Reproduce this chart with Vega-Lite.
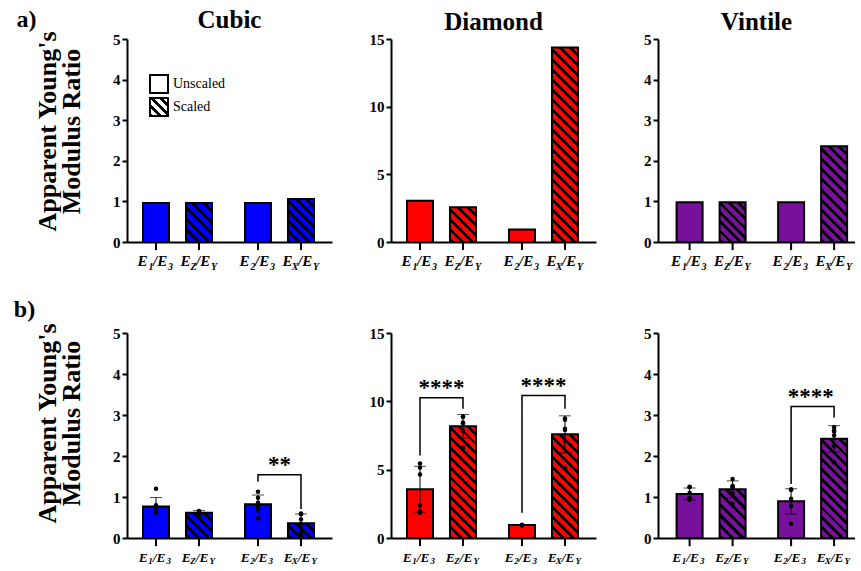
{
  "$schema": "https://vega.github.io/schema/vega-lite/v6.json",
  "background": "white",
  "padding": {"left": 13, "top": 8, "right": 0, "bottom": 0},
  "datasets": {
    "bars": [
      {"row":"a","shape":"Cubic","group":"G1","kind":"Unscaled","rep":1,"value":0.96},
      {"row":"a","shape":"Cubic","group":"G1","kind":"Scaled","rep":1,"value":0.96},
      {"row":"a","shape":"Cubic","group":"G2","kind":"Unscaled","rep":1,"value":0.96},
      {"row":"a","shape":"Cubic","group":"G2","kind":"Scaled","rep":1,"value":1.06},
      {"row":"a","shape":"Diamond","group":"G1","kind":"Unscaled","rep":1,"value":3.05},
      {"row":"a","shape":"Diamond","group":"G1","kind":"Scaled","rep":1,"value":2.56},
      {"row":"a","shape":"Diamond","group":"G2","kind":"Unscaled","rep":1,"value":0.92},
      {"row":"a","shape":"Diamond","group":"G2","kind":"Scaled","rep":1,"value":14.38},
      {"row":"a","shape":"Vintile","group":"G1","kind":"Unscaled","rep":1,"value":0.98},
      {"row":"a","shape":"Vintile","group":"G1","kind":"Scaled","rep":1,"value":0.98},
      {"row":"a","shape":"Vintile","group":"G2","kind":"Unscaled","rep":1,"value":0.98},
      {"row":"a","shape":"Vintile","group":"G2","kind":"Scaled","rep":1,"value":2.36},

      {"row":"b","shape":"Cubic","group":"G1","kind":"Unscaled","rep":1,"value":0.66},
      {"row":"b","shape":"Cubic","group":"G1","kind":"Unscaled","rep":2,"value":0.68},
      {"row":"b","shape":"Cubic","group":"G1","kind":"Unscaled","rep":3,"value":1.2},
      {"row":"b","shape":"Cubic","group":"G1","kind":"Unscaled","rep":4,"value":0.8},
      {"row":"b","shape":"Cubic","group":"G1","kind":"Unscaled","rep":5,"value":0.62},
      {"row":"b","shape":"Cubic","group":"G1","kind":"Unscaled","rep":6,"value":0.66},
      {"row":"b","shape":"Cubic","group":"G1","kind":"Scaled","rep":1,"value":0.64},
      {"row":"b","shape":"Cubic","group":"G1","kind":"Scaled","rep":2,"value":0.66},
      {"row":"b","shape":"Cubic","group":"G1","kind":"Scaled","rep":3,"value":0.52},
      {"row":"b","shape":"Cubic","group":"G1","kind":"Scaled","rep":4,"value":0.62},
      {"row":"b","shape":"Cubic","group":"G1","kind":"Scaled","rep":5,"value":0.64},
      {"row":"b","shape":"Cubic","group":"G1","kind":"Scaled","rep":6,"value":0.63},
      {"row":"b","shape":"Cubic","group":"G2","kind":"Unscaled","rep":1,"value":0.7},
      {"row":"b","shape":"Cubic","group":"G2","kind":"Unscaled","rep":2,"value":1.13},
      {"row":"b","shape":"Cubic","group":"G2","kind":"Unscaled","rep":3,"value":0.86},
      {"row":"b","shape":"Cubic","group":"G2","kind":"Unscaled","rep":4,"value":0.48},
      {"row":"b","shape":"Cubic","group":"G2","kind":"Unscaled","rep":5,"value":0.98},
      {"row":"b","shape":"Cubic","group":"G2","kind":"Unscaled","rep":6,"value":0.78},
      {"row":"b","shape":"Cubic","group":"G2","kind":"Scaled","rep":1,"value":0.45},
      {"row":"b","shape":"Cubic","group":"G2","kind":"Scaled","rep":2,"value":0.6},
      {"row":"b","shape":"Cubic","group":"G2","kind":"Scaled","rep":3,"value":0.15},
      {"row":"b","shape":"Cubic","group":"G2","kind":"Scaled","rep":4,"value":0.33},
      {"row":"b","shape":"Cubic","group":"G2","kind":"Scaled","rep":5,"value":0.58},
      {"row":"b","shape":"Cubic","group":"G2","kind":"Scaled","rep":6,"value":0.05},

      {"row":"b","shape":"Diamond","group":"G1","kind":"Unscaled","rep":1,"value":5.15},
      {"row":"b","shape":"Diamond","group":"G1","kind":"Unscaled","rep":2,"value":1.95},
      {"row":"b","shape":"Diamond","group":"G1","kind":"Unscaled","rep":3,"value":5.45},
      {"row":"b","shape":"Diamond","group":"G1","kind":"Unscaled","rep":4,"value":2.4},
      {"row":"b","shape":"Diamond","group":"G1","kind":"Unscaled","rep":5,"value":1.85},
      {"row":"b","shape":"Diamond","group":"G1","kind":"Unscaled","rep":6,"value":4.65},
      {"row":"b","shape":"Diamond","group":"G1","kind":"Scaled","rep":1,"value":8.9},
      {"row":"b","shape":"Diamond","group":"G1","kind":"Scaled","rep":2,"value":8.45},
      {"row":"b","shape":"Diamond","group":"G1","kind":"Scaled","rep":3,"value":7.85},
      {"row":"b","shape":"Diamond","group":"G1","kind":"Scaled","rep":4,"value":6.6},
      {"row":"b","shape":"Diamond","group":"G1","kind":"Scaled","rep":5,"value":8.85},
      {"row":"b","shape":"Diamond","group":"G1","kind":"Scaled","rep":6,"value":8.4},
      {"row":"b","shape":"Diamond","group":"G2","kind":"Unscaled","rep":1,"value":0.95},
      {"row":"b","shape":"Diamond","group":"G2","kind":"Unscaled","rep":2,"value":0.96},
      {"row":"b","shape":"Diamond","group":"G2","kind":"Unscaled","rep":3,"value":0.94},
      {"row":"b","shape":"Diamond","group":"G2","kind":"Unscaled","rep":4,"value":0.95},
      {"row":"b","shape":"Diamond","group":"G2","kind":"Unscaled","rep":5,"value":0.96},
      {"row":"b","shape":"Diamond","group":"G2","kind":"Unscaled","rep":6,"value":0.94},
      {"row":"b","shape":"Diamond","group":"G2","kind":"Scaled","rep":1,"value":8.75},
      {"row":"b","shape":"Diamond","group":"G2","kind":"Scaled","rep":2,"value":8.0},
      {"row":"b","shape":"Diamond","group":"G2","kind":"Scaled","rep":3,"value":7.1},
      {"row":"b","shape":"Diamond","group":"G2","kind":"Scaled","rep":4,"value":5.1},
      {"row":"b","shape":"Diamond","group":"G2","kind":"Scaled","rep":5,"value":8.65},
      {"row":"b","shape":"Diamond","group":"G2","kind":"Scaled","rep":6,"value":7.9},

      {"row":"b","shape":"Vintile","group":"G1","kind":"Unscaled","rep":1,"value":0.93},
      {"row":"b","shape":"Vintile","group":"G1","kind":"Unscaled","rep":2,"value":1.25},
      {"row":"b","shape":"Vintile","group":"G1","kind":"Unscaled","rep":3,"value":1.1},
      {"row":"b","shape":"Vintile","group":"G1","kind":"Unscaled","rep":4,"value":0.95},
      {"row":"b","shape":"Vintile","group":"G1","kind":"Unscaled","rep":5,"value":1.24},
      {"row":"b","shape":"Vintile","group":"G1","kind":"Unscaled","rep":6,"value":0.97},
      {"row":"b","shape":"Vintile","group":"G1","kind":"Scaled","rep":1,"value":1.26},
      {"row":"b","shape":"Vintile","group":"G1","kind":"Scaled","rep":2,"value":1.08},
      {"row":"b","shape":"Vintile","group":"G1","kind":"Scaled","rep":3,"value":1.44},
      {"row":"b","shape":"Vintile","group":"G1","kind":"Scaled","rep":4,"value":0.84},
      {"row":"b","shape":"Vintile","group":"G1","kind":"Scaled","rep":5,"value":1.24},
      {"row":"b","shape":"Vintile","group":"G1","kind":"Scaled","rep":6,"value":1.27},
      {"row":"b","shape":"Vintile","group":"G2","kind":"Unscaled","rep":1,"value":1.19},
      {"row":"b","shape":"Vintile","group":"G2","kind":"Unscaled","rep":2,"value":0.96},
      {"row":"b","shape":"Vintile","group":"G2","kind":"Unscaled","rep":3,"value":0.35},
      {"row":"b","shape":"Vintile","group":"G2","kind":"Unscaled","rep":4,"value":0.78},
      {"row":"b","shape":"Vintile","group":"G2","kind":"Unscaled","rep":5,"value":0.92},
      {"row":"b","shape":"Vintile","group":"G2","kind":"Unscaled","rep":6,"value":1.17},
      {"row":"b","shape":"Vintile","group":"G2","kind":"Scaled","rep":1,"value":2.62},
      {"row":"b","shape":"Vintile","group":"G2","kind":"Scaled","rep":2,"value":2.5},
      {"row":"b","shape":"Vintile","group":"G2","kind":"Scaled","rep":3,"value":2.7},
      {"row":"b","shape":"Vintile","group":"G2","kind":"Scaled","rep":4,"value":1.85},
      {"row":"b","shape":"Vintile","group":"G2","kind":"Scaled","rep":5,"value":2.25},
      {"row":"b","shape":"Vintile","group":"G2","kind":"Scaled","rep":6,"value":2.6}
    ],
    "labels": [
      {"group":"G1","kind":"Unscaled","n":"1","d":"3"},
      {"group":"G1","kind":"Scaled","n":"Z","d":"Y"},
      {"group":"G2","kind":"Unscaled","n":"2","d":"3"},
      {"group":"G2","kind":"Scaled","n":"X","d":"Y"}
    ],
    "brackets": [
      {"shape":"Cubic","id":"c2","group":"G2","kind":"Unscaled","ord":1,"y":1.37},
      {"shape":"Cubic","id":"c2","group":"G2","kind":"Unscaled","ord":2,"y":1.54},
      {"shape":"Cubic","id":"c2","group":"G2","kind":"Scaled","ord":3,"y":1.54},
      {"shape":"Cubic","id":"c2","group":"G2","kind":"Scaled","ord":4,"y":0.71},
      {"shape":"Diamond","id":"d1","group":"G1","kind":"Unscaled","ord":1,"y":6.04},
      {"shape":"Diamond","id":"d1","group":"G1","kind":"Unscaled","ord":2,"y":10.26},
      {"shape":"Diamond","id":"d1","group":"G1","kind":"Scaled","ord":3,"y":10.26},
      {"shape":"Diamond","id":"d1","group":"G1","kind":"Scaled","ord":4,"y":9.46},
      {"shape":"Diamond","id":"d2","group":"G2","kind":"Unscaled","ord":1,"y":1.85},
      {"shape":"Diamond","id":"d2","group":"G2","kind":"Unscaled","ord":2,"y":10.43},
      {"shape":"Diamond","id":"d2","group":"G2","kind":"Scaled","ord":3,"y":10.43},
      {"shape":"Diamond","id":"d2","group":"G2","kind":"Scaled","ord":4,"y":9.46},
      {"shape":"Vintile","id":"v2","group":"G2","kind":"Unscaled","ord":1,"y":1.32},
      {"shape":"Vintile","id":"v2","group":"G2","kind":"Unscaled","ord":2,"y":3.21},
      {"shape":"Vintile","id":"v2","group":"G2","kind":"Scaled","ord":3,"y":3.21},
      {"shape":"Vintile","id":"v2","group":"G2","kind":"Scaled","ord":4,"y":2.94}
    ],
    "stars": [
      {"shape":"Cubic","group":"G2","y":1.54,"label":"**"},
      {"shape":"Diamond","group":"G1","y":10.26,"label":"****"},
      {"shape":"Diamond","group":"G2","y":10.43,"label":"****"},
      {"shape":"Vintile","group":"G2","y":3.21,"label":"****"}
    ]
  },
  "config": {
    "view": {"stroke": null},
    "font": "Liberation Serif",
    "title": {"font": "Liberation Serif", "fontSize": 25, "fontWeight": "bold", "color": "#000", "offset": -3},
    "axis": {
      "domainColor": "#000", "domainWidth": 2,
      "tickColor": "#000", "tickWidth": 2, "tickSize": 5,
      "labelFont": "Liberation Serif", "labelFontSize": 15, "labelFontWeight": "bold", "labelColor": "#000", "labelPadding": 2,
      "grid": false,
      "titleFont": "Liberation Serif", "titleFontSize": 26, "titleFontWeight": "bold", "titleColor": "#000",
      "titleLineHeight": 24, "titlePadding": 28
    }
  },
  "spacing": 26,
  "vconcat": [
    {
      "title": {"text": "a)", "orient": "left", "anchor": "end", "angle": 0, "align": "right", "baseline": "top", "offset": -22, "fontSize": 24},
      "spacing": 10,
      "hconcat": [
        {
          "width": 205, "height": 203,
          "title": "Cubic",
          "data": {"name": "bars"},
          "encoding": {"x": {"field": "group", "type": "nominal", "scale": {"domain": ["G1","G2"], "paddingInner": 0.1, "paddingOuter": 0.0549, "align": 0.41}, "axis": {"labels": false, "ticks": false, "title": null}}},
          "layer": [
            {"transform": [{"filter": "datum.row=='a' && datum.shape=='Cubic' && datum.kind=='Unscaled'"}],
             "mark": {"type": "bar", "fill": "#00f", "stroke": "#000", "strokeWidth": 2},
             "encoding": {"xOffset": {"field":"kind","type":"nominal","scale":{"domain":["Unscaled","Scaled"],"paddingInner":0.3953,"paddingOuter":0.2651}},
               "y": {"aggregate": "mean", "field": "value", "type": "quantitative", "scale": {"domain": [0,5], "nice": false}, "axis": {"values": [0,1,2,3,4,5], "titleY": 92, "title": ["Apparent Young's","Modulus Ratio"]}}}},
            {"transform": [{"filter": "datum.row=='a' && datum.shape=='Cubic' && datum.kind=='Scaled' && datum.group=='G1'"}],
             "mark": {"type": "bar", "stroke": "#000", "strokeWidth": 2, "fill": {"gradient":"linear","x1":0,"y1":1,"x2":0.7692,"y2":-0.1538,"stops":[
               {"offset":0,"color":"#000"},{"offset":0.0667,"color":"#000"},{"offset":0.0667,"color":"#00f"},{"offset":0.1667,"color":"#00f"},
               {"offset":0.1667,"color":"#000"},{"offset":0.2333,"color":"#000"},{"offset":0.2333,"color":"#00f"},{"offset":0.3333,"color":"#00f"},
               {"offset":0.3333,"color":"#000"},{"offset":0.4,"color":"#000"},{"offset":0.4,"color":"#00f"},{"offset":0.5,"color":"#00f"},
               {"offset":0.5,"color":"#000"},{"offset":0.5667,"color":"#000"},{"offset":0.5667,"color":"#00f"},{"offset":0.6667,"color":"#00f"},
               {"offset":0.6667,"color":"#000"},{"offset":0.7333,"color":"#000"},{"offset":0.7333,"color":"#00f"},{"offset":0.8333,"color":"#00f"},
               {"offset":0.8333,"color":"#000"},{"offset":0.9,"color":"#000"},{"offset":0.9,"color":"#00f"},{"offset":1,"color":"#00f"}]}},
             "encoding": {"xOffset": {"field":"kind","type":"nominal","scale":{"domain":["Unscaled","Scaled"],"paddingInner":0.3953,"paddingOuter":0.2651}},
               "y": {"aggregate": "mean", "field": "value", "type": "quantitative"}}},
            {"transform": [{"filter": "datum.row=='a' && datum.shape=='Cubic' && datum.kind=='Scaled' && datum.group=='G2'"}],
             "mark": {"type": "bar", "stroke": "#000", "strokeWidth": 2, "fill": {"gradient":"linear","x1":0,"y1":1,"x2":0.7105,"y2":-0.1751,"stops":[
               {"offset":0,"color":"#000"},{"offset":0.0571,"color":"#000"},{"offset":0.0571,"color":"#00f"},{"offset":0.1429,"color":"#00f"},
               {"offset":0.1429,"color":"#000"},{"offset":0.2,"color":"#000"},{"offset":0.2,"color":"#00f"},{"offset":0.2857,"color":"#00f"},
               {"offset":0.2857,"color":"#000"},{"offset":0.3429,"color":"#000"},{"offset":0.3429,"color":"#00f"},{"offset":0.4286,"color":"#00f"},
               {"offset":0.4286,"color":"#000"},{"offset":0.4857,"color":"#000"},{"offset":0.4857,"color":"#00f"},{"offset":0.5714,"color":"#00f"},
               {"offset":0.5714,"color":"#000"},{"offset":0.6286,"color":"#000"},{"offset":0.6286,"color":"#00f"},{"offset":0.7143,"color":"#00f"},
               {"offset":0.7143,"color":"#000"},{"offset":0.7714,"color":"#000"},{"offset":0.7714,"color":"#00f"},{"offset":0.8571,"color":"#00f"},
               {"offset":0.8571,"color":"#000"},{"offset":0.9143,"color":"#000"},{"offset":0.9143,"color":"#00f"},{"offset":1,"color":"#00f"}]}},
             "encoding": {"xOffset": {"field":"kind","type":"nominal","scale":{"domain":["Unscaled","Scaled"],"paddingInner":0.3953,"paddingOuter":0.2651}},
               "y": {"aggregate": "mean", "field": "value", "type": "quantitative"}}},
            {"data": {"name": "labels"}, "mark": {"type": "rule", "stroke": "#000", "strokeWidth": 2},
             "encoding": {"xOffset": {"field":"kind","type":"nominal","scale":{"domain":["Unscaled","Scaled"],"paddingInner":0.3953,"paddingOuter":0.2651}}, "y": {"datum": 0}, "y2": {"datum": -0.2}}},
            {"data": {"name": "labels"}, "mark": {"type": "text", "text": "E", "fontStyle": "italic", "fontWeight": "bold", "fontSize": 15, "align": "right", "baseline": "alphabetic", "dx": -8.5, "dy": 24, "color": "#000"},
             "encoding": {"xOffset": {"field":"kind","type":"nominal","scale":{"domain":["Unscaled","Scaled"],"paddingInner":0.3953,"paddingOuter":0.2651}}, "y": {"datum": 0}}},
            {"data": {"name": "labels"}, "mark": {"type": "text", "fontStyle": "italic", "fontWeight": "bold", "fontSize": 10, "align": "right", "baseline": "alphabetic", "dx": -2.5, "dy": 27.5, "color": "#000"},
             "encoding": {"xOffset": {"field":"kind","type":"nominal","scale":{"domain":["Unscaled","Scaled"],"paddingInner":0.3953,"paddingOuter":0.2651}}, "y": {"datum": 0}, "text": {"field": "n"}}},
            {"data": {"name": "labels"}, "mark": {"type": "text", "text": "/E", "fontStyle": "italic", "fontWeight": "bold", "fontSize": 15, "align": "left", "baseline": "alphabetic", "dx": -3, "dy": 24, "color": "#000"},
             "encoding": {"xOffset": {"field":"kind","type":"nominal","scale":{"domain":["Unscaled","Scaled"],"paddingInner":0.3953,"paddingOuter":0.2651}}, "y": {"datum": 0}}},
            {"data": {"name": "labels"}, "mark": {"type": "text", "fontStyle": "italic", "fontWeight": "bold", "fontSize": 10, "align": "left", "baseline": "alphabetic", "dx": 12, "dy": 27.5, "color": "#000"},
             "encoding": {"xOffset": {"field":"kind","type":"nominal","scale":{"domain":["Unscaled","Scaled"],"paddingInner":0.3953,"paddingOuter":0.2651}}, "y": {"datum": 0}, "text": {"field": "d"}}},
            {"data": {"values": []},
             "mark": {"type": "point", "filled": true, "opacity": 1},
             "encoding": {"shape": {"field": "kind", "type": "nominal",
               "scale": {"domain": ["Unscaled","Scaled"], "range": ["square", "square"]},
               "legend": {"title": null, "orient": "none", "legendX": 22, "legendY": 35, "padding": 0,
                 "symbolSize": 324, "symbolStrokeColor": "#000", "symbolStrokeWidth": 2, "symbolOpacity": 1, "symbolFillColor": "#fff",
                 "labelFont": "Liberation Serif", "labelFontSize": 14, "labelFontWeight": "normal", "labelColor": "#000", "labelOffset": 4, "rowPadding": -4,
                 "encoding": {"symbols": {
                   "stroke": {"value": "#000"},
                   "strokeWidth": {"value": 2},
                   "opacity": {"value": 1},
                   "fill": {"condition": {"test": "datum.value === 'Scaled'", "value": {"gradient":"linear","x1":0,"y1":1,"x2":1,"y2":0,"stops":[
                     {"offset":0,"color":"#000"},{"offset":0.1,"color":"#000"},{"offset":0.1,"color":"#fff"},{"offset":0.25,"color":"#fff"},
                     {"offset":0.25,"color":"#000"},{"offset":0.35,"color":"#000"},{"offset":0.35,"color":"#fff"},{"offset":0.5,"color":"#fff"},
                     {"offset":0.5,"color":"#000"},{"offset":0.6,"color":"#000"},{"offset":0.6,"color":"#fff"},{"offset":0.75,"color":"#fff"},
                     {"offset":0.75,"color":"#000"},{"offset":0.85,"color":"#000"},{"offset":0.85,"color":"#fff"},{"offset":1,"color":"#fff"}]}},
                   "value": "#fff"}}}}}}}
          ]
        },
        {
          "width": 205, "height": 203,
          "title": "Diamond",
          "data": {"name": "bars"},
          "encoding": {"x": {"field": "group", "type": "nominal", "scale": {"domain": ["G1","G2"], "paddingInner": 0.1, "paddingOuter": 0.0549, "align": 0.41}, "axis": {"labels": false, "ticks": false, "title": null}}},
          "layer": [
            {"transform": [{"filter": "datum.row=='a' && datum.shape=='Diamond' && datum.kind=='Unscaled'"}],
             "mark": {"type": "bar", "fill": "#f00", "stroke": "#000", "strokeWidth": 2},
             "encoding": {"xOffset": {"field":"kind","type":"nominal","scale":{"domain":["Unscaled","Scaled"],"paddingInner":0.3953,"paddingOuter":0.2651}},
               "y": {"aggregate": "mean", "field": "value", "type": "quantitative", "scale": {"domain": [0,15], "nice": false}, "axis": {"values": [0,5,10,15], "title": null, "minExtent": 49}}}},
            {"transform": [{"filter": "datum.row=='a' && datum.shape=='Diamond' && datum.kind=='Scaled' && datum.group=='G1'"}],
             "mark": {"type": "bar", "stroke": "#000", "strokeWidth": 2, "fill": {"gradient":"linear","x1":0,"y1":1,"x2":0.8412,"y2":-0.1195,"stops":[
               {"offset":0,"color":"#000"},{"offset":0.0667,"color":"#000"},{"offset":0.0667,"color":"#f00"},{"offset":0.1667,"color":"#f00"},
               {"offset":0.1667,"color":"#000"},{"offset":0.2333,"color":"#000"},{"offset":0.2333,"color":"#f00"},{"offset":0.3333,"color":"#f00"},
               {"offset":0.3333,"color":"#000"},{"offset":0.4,"color":"#000"},{"offset":0.4,"color":"#f00"},{"offset":0.5,"color":"#f00"},
               {"offset":0.5,"color":"#000"},{"offset":0.5667,"color":"#000"},{"offset":0.5667,"color":"#f00"},{"offset":0.6667,"color":"#f00"},
               {"offset":0.6667,"color":"#000"},{"offset":0.7333,"color":"#000"},{"offset":0.7333,"color":"#f00"},{"offset":0.8333,"color":"#f00"},
               {"offset":0.8333,"color":"#000"},{"offset":0.9,"color":"#000"},{"offset":0.9,"color":"#f00"},{"offset":1,"color":"#f00"}]}},
             "encoding": {"xOffset": {"field":"kind","type":"nominal","scale":{"domain":["Unscaled","Scaled"],"paddingInner":0.3953,"paddingOuter":0.2651}},
               "y": {"aggregate": "mean", "field": "value", "type": "quantitative"}}},
            {"transform": [{"filter": "datum.row=='a' && datum.shape=='Diamond' && datum.kind=='Scaled' && datum.group=='G2'"}],
             "mark": {"type": "bar", "stroke": "#000", "strokeWidth": 2, "fill": {"gradient":"linear","x1":0,"y1":1,"x2":0.1488,"y2":-0.1137,"stops":[
               {"offset":0,"color":"#000"},{"offset":0.0182,"color":"#000"},{"offset":0.0182,"color":"#f00"},{"offset":0.0455,"color":"#f00"},
               {"offset":0.0455,"color":"#000"},{"offset":0.0636,"color":"#000"},{"offset":0.0636,"color":"#f00"},{"offset":0.0909,"color":"#f00"},
               {"offset":0.0909,"color":"#000"},{"offset":0.1091,"color":"#000"},{"offset":0.1091,"color":"#f00"},{"offset":0.1364,"color":"#f00"},
               {"offset":0.1364,"color":"#000"},{"offset":0.1545,"color":"#000"},{"offset":0.1545,"color":"#f00"},{"offset":0.1818,"color":"#f00"},
               {"offset":0.1818,"color":"#000"},{"offset":0.2,"color":"#000"},{"offset":0.2,"color":"#f00"},{"offset":0.2273,"color":"#f00"},
               {"offset":0.2273,"color":"#000"},{"offset":0.2455,"color":"#000"},{"offset":0.2455,"color":"#f00"},{"offset":0.2727,"color":"#f00"},
               {"offset":0.2727,"color":"#000"},{"offset":0.2909,"color":"#000"},{"offset":0.2909,"color":"#f00"},{"offset":0.3182,"color":"#f00"},
               {"offset":0.3182,"color":"#000"},{"offset":0.3364,"color":"#000"},{"offset":0.3364,"color":"#f00"},{"offset":0.3636,"color":"#f00"},
               {"offset":0.3636,"color":"#000"},{"offset":0.3818,"color":"#000"},{"offset":0.3818,"color":"#f00"},{"offset":0.4091,"color":"#f00"},
               {"offset":0.4091,"color":"#000"},{"offset":0.4273,"color":"#000"},{"offset":0.4273,"color":"#f00"},{"offset":0.4545,"color":"#f00"},
               {"offset":0.4545,"color":"#000"},{"offset":0.4727,"color":"#000"},{"offset":0.4727,"color":"#f00"},{"offset":0.5,"color":"#f00"},
               {"offset":0.5,"color":"#000"},{"offset":0.5182,"color":"#000"},{"offset":0.5182,"color":"#f00"},{"offset":0.5455,"color":"#f00"},
               {"offset":0.5455,"color":"#000"},{"offset":0.5636,"color":"#000"},{"offset":0.5636,"color":"#f00"},{"offset":0.5909,"color":"#f00"},
               {"offset":0.5909,"color":"#000"},{"offset":0.6091,"color":"#000"},{"offset":0.6091,"color":"#f00"},{"offset":0.6364,"color":"#f00"},
               {"offset":0.6364,"color":"#000"},{"offset":0.6545,"color":"#000"},{"offset":0.6545,"color":"#f00"},{"offset":0.6818,"color":"#f00"},
               {"offset":0.6818,"color":"#000"},{"offset":0.7,"color":"#000"},{"offset":0.7,"color":"#f00"},{"offset":0.7273,"color":"#f00"},
               {"offset":0.7273,"color":"#000"},{"offset":0.7455,"color":"#000"},{"offset":0.7455,"color":"#f00"},{"offset":0.7727,"color":"#f00"},
               {"offset":0.7727,"color":"#000"},{"offset":0.7909,"color":"#000"},{"offset":0.7909,"color":"#f00"},{"offset":0.8182,"color":"#f00"},
               {"offset":0.8182,"color":"#000"},{"offset":0.8364,"color":"#000"},{"offset":0.8364,"color":"#f00"},{"offset":0.8636,"color":"#f00"},
               {"offset":0.8636,"color":"#000"},{"offset":0.8818,"color":"#000"},{"offset":0.8818,"color":"#f00"},{"offset":0.9091,"color":"#f00"},
               {"offset":0.9091,"color":"#000"},{"offset":0.9273,"color":"#000"},{"offset":0.9273,"color":"#f00"},{"offset":0.9545,"color":"#f00"},
               {"offset":0.9545,"color":"#000"},{"offset":0.9727,"color":"#000"},{"offset":0.9727,"color":"#f00"},{"offset":1,"color":"#f00"}]}},
             "encoding": {"xOffset": {"field":"kind","type":"nominal","scale":{"domain":["Unscaled","Scaled"],"paddingInner":0.3953,"paddingOuter":0.2651}},
               "y": {"aggregate": "mean", "field": "value", "type": "quantitative"}}},
            {"data": {"name": "labels"}, "mark": {"type": "rule", "stroke": "#000", "strokeWidth": 2},
             "encoding": {"xOffset": {"field":"kind","type":"nominal","scale":{"domain":["Unscaled","Scaled"],"paddingInner":0.3953,"paddingOuter":0.2651}}, "y": {"datum": 0}, "y2": {"datum": -0.59}}},
            {"data": {"name": "labels"}, "mark": {"type": "text", "text": "E", "fontStyle": "italic", "fontWeight": "bold", "fontSize": 15, "align": "right", "baseline": "alphabetic", "dx": -8.5, "dy": 24, "color": "#000"},
             "encoding": {"xOffset": {"field":"kind","type":"nominal","scale":{"domain":["Unscaled","Scaled"],"paddingInner":0.3953,"paddingOuter":0.2651}}, "y": {"datum": 0}}},
            {"data": {"name": "labels"}, "mark": {"type": "text", "fontStyle": "italic", "fontWeight": "bold", "fontSize": 10, "align": "right", "baseline": "alphabetic", "dx": -2.5, "dy": 27.5, "color": "#000"},
             "encoding": {"xOffset": {"field":"kind","type":"nominal","scale":{"domain":["Unscaled","Scaled"],"paddingInner":0.3953,"paddingOuter":0.2651}}, "y": {"datum": 0}, "text": {"field": "n"}}},
            {"data": {"name": "labels"}, "mark": {"type": "text", "text": "/E", "fontStyle": "italic", "fontWeight": "bold", "fontSize": 15, "align": "left", "baseline": "alphabetic", "dx": -3, "dy": 24, "color": "#000"},
             "encoding": {"xOffset": {"field":"kind","type":"nominal","scale":{"domain":["Unscaled","Scaled"],"paddingInner":0.3953,"paddingOuter":0.2651}}, "y": {"datum": 0}}},
            {"data": {"name": "labels"}, "mark": {"type": "text", "fontStyle": "italic", "fontWeight": "bold", "fontSize": 10, "align": "left", "baseline": "alphabetic", "dx": 12, "dy": 27.5, "color": "#000"},
             "encoding": {"xOffset": {"field":"kind","type":"nominal","scale":{"domain":["Unscaled","Scaled"],"paddingInner":0.3953,"paddingOuter":0.2651}}, "y": {"datum": 0}, "text": {"field": "d"}}}
          ]
        },
        {
          "width": 197, "height": 203,
          "title": "Vintile",
          "data": {"name": "bars"},
          "encoding": {"x": {"field": "group", "type": "nominal", "scale": {"domain": ["G1","G2"], "paddingInner": 0.13, "paddingOuter": 0.0355, "align": 1}, "axis": {"labels": false, "ticks": false, "title": null}}},
          "layer": [
            {"transform": [{"filter": "datum.row=='a' && datum.shape=='Vintile' && datum.kind=='Unscaled'"}],
             "mark": {"type": "bar", "fill": "#77109b", "stroke": "#000", "strokeWidth": 2},
             "encoding": {"xOffset": {"field":"kind","type":"nominal","scale":{"domain":["Unscaled","Scaled"],"paddingInner":0.4222,"paddingOuter":0.1922}},
               "y": {"aggregate": "mean", "field": "value", "type": "quantitative", "scale": {"domain": [0,5], "nice": false}, "axis": {"values": [0,1,2,3,4,5], "title": null, "minExtent": 52}}}},
            {"transform": [{"filter": "datum.row=='a' && datum.shape=='Vintile' && datum.kind=='Scaled' && datum.group=='G1'"}],
             "mark": {"type": "bar", "stroke": "#000", "strokeWidth": 2, "fill": {"gradient":"linear","x1":0,"y1":1,"x2":0.757,"y2":-0.1588,"stops":[
               {"offset":0,"color":"#000"},{"offset":0.0571,"color":"#000"},{"offset":0.0571,"color":"#77109b"},{"offset":0.1429,"color":"#77109b"},
               {"offset":0.1429,"color":"#000"},{"offset":0.2,"color":"#000"},{"offset":0.2,"color":"#77109b"},{"offset":0.2857,"color":"#77109b"},
               {"offset":0.2857,"color":"#000"},{"offset":0.3429,"color":"#000"},{"offset":0.3429,"color":"#77109b"},{"offset":0.4286,"color":"#77109b"},
               {"offset":0.4286,"color":"#000"},{"offset":0.4857,"color":"#000"},{"offset":0.4857,"color":"#77109b"},{"offset":0.5714,"color":"#77109b"},
               {"offset":0.5714,"color":"#000"},{"offset":0.6286,"color":"#000"},{"offset":0.6286,"color":"#77109b"},{"offset":0.7143,"color":"#77109b"},
               {"offset":0.7143,"color":"#000"},{"offset":0.7714,"color":"#000"},{"offset":0.7714,"color":"#77109b"},{"offset":0.8571,"color":"#77109b"},
               {"offset":0.8571,"color":"#000"},{"offset":0.9143,"color":"#000"},{"offset":0.9143,"color":"#77109b"},{"offset":1,"color":"#77109b"}]}},
             "encoding": {"xOffset": {"field":"kind","type":"nominal","scale":{"domain":["Unscaled","Scaled"],"paddingInner":0.4222,"paddingOuter":0.1922}},
               "y": {"aggregate": "mean", "field": "value", "type": "quantitative"}}},
            {"transform": [{"filter": "datum.row=='a' && datum.shape=='Vintile' && datum.kind=='Scaled' && datum.group=='G2'"}],
             "mark": {"type": "bar", "stroke": "#000", "strokeWidth": 2, "fill": {"gradient":"linear","x1":0,"y1":1,"x2":0.3214,"y2":-0.1841,"stops":[
               {"offset":0,"color":"#000"},{"offset":0.0333,"color":"#000"},{"offset":0.0333,"color":"#77109b"},{"offset":0.0833,"color":"#77109b"},
               {"offset":0.0833,"color":"#000"},{"offset":0.1167,"color":"#000"},{"offset":0.1167,"color":"#77109b"},{"offset":0.1667,"color":"#77109b"},
               {"offset":0.1667,"color":"#000"},{"offset":0.2,"color":"#000"},{"offset":0.2,"color":"#77109b"},{"offset":0.25,"color":"#77109b"},
               {"offset":0.25,"color":"#000"},{"offset":0.2833,"color":"#000"},{"offset":0.2833,"color":"#77109b"},{"offset":0.3333,"color":"#77109b"},
               {"offset":0.3333,"color":"#000"},{"offset":0.3667,"color":"#000"},{"offset":0.3667,"color":"#77109b"},{"offset":0.4167,"color":"#77109b"},
               {"offset":0.4167,"color":"#000"},{"offset":0.45,"color":"#000"},{"offset":0.45,"color":"#77109b"},{"offset":0.5,"color":"#77109b"},
               {"offset":0.5,"color":"#000"},{"offset":0.5333,"color":"#000"},{"offset":0.5333,"color":"#77109b"},{"offset":0.5833,"color":"#77109b"},
               {"offset":0.5833,"color":"#000"},{"offset":0.6167,"color":"#000"},{"offset":0.6167,"color":"#77109b"},{"offset":0.6667,"color":"#77109b"},
               {"offset":0.6667,"color":"#000"},{"offset":0.7,"color":"#000"},{"offset":0.7,"color":"#77109b"},{"offset":0.75,"color":"#77109b"},
               {"offset":0.75,"color":"#000"},{"offset":0.7833,"color":"#000"},{"offset":0.7833,"color":"#77109b"},{"offset":0.8333,"color":"#77109b"},
               {"offset":0.8333,"color":"#000"},{"offset":0.8667,"color":"#000"},{"offset":0.8667,"color":"#77109b"},{"offset":0.9167,"color":"#77109b"},
               {"offset":0.9167,"color":"#000"},{"offset":0.95,"color":"#000"},{"offset":0.95,"color":"#77109b"},{"offset":1,"color":"#77109b"}]}},
             "encoding": {"xOffset": {"field":"kind","type":"nominal","scale":{"domain":["Unscaled","Scaled"],"paddingInner":0.4222,"paddingOuter":0.1922}},
               "y": {"aggregate": "mean", "field": "value", "type": "quantitative"}}},
            {"data": {"name": "labels"}, "mark": {"type": "rule", "stroke": "#000", "strokeWidth": 2},
             "encoding": {"xOffset": {"field":"kind","type":"nominal","scale":{"domain":["Unscaled","Scaled"],"paddingInner":0.4222,"paddingOuter":0.1922}}, "y": {"datum": 0}, "y2": {"datum": -0.2}}},
            {"data": {"name": "labels"}, "mark": {"type": "text", "text": "E", "fontStyle": "italic", "fontWeight": "bold", "fontSize": 15, "align": "right", "baseline": "alphabetic", "dx": -8.5, "dy": 24, "color": "#000"},
             "encoding": {"xOffset": {"field":"kind","type":"nominal","scale":{"domain":["Unscaled","Scaled"],"paddingInner":0.4222,"paddingOuter":0.1922}}, "y": {"datum": 0}}},
            {"data": {"name": "labels"}, "mark": {"type": "text", "fontStyle": "italic", "fontWeight": "bold", "fontSize": 10, "align": "right", "baseline": "alphabetic", "dx": -2.5, "dy": 27.5, "color": "#000"},
             "encoding": {"xOffset": {"field":"kind","type":"nominal","scale":{"domain":["Unscaled","Scaled"],"paddingInner":0.4222,"paddingOuter":0.1922}}, "y": {"datum": 0}, "text": {"field": "n"}}},
            {"data": {"name": "labels"}, "mark": {"type": "text", "text": "/E", "fontStyle": "italic", "fontWeight": "bold", "fontSize": 15, "align": "left", "baseline": "alphabetic", "dx": -3, "dy": 24, "color": "#000"},
             "encoding": {"xOffset": {"field":"kind","type":"nominal","scale":{"domain":["Unscaled","Scaled"],"paddingInner":0.4222,"paddingOuter":0.1922}}, "y": {"datum": 0}}},
            {"data": {"name": "labels"}, "mark": {"type": "text", "fontStyle": "italic", "fontWeight": "bold", "fontSize": 10, "align": "left", "baseline": "alphabetic", "dx": 12, "dy": 27.5, "color": "#000"},
             "encoding": {"xOffset": {"field":"kind","type":"nominal","scale":{"domain":["Unscaled","Scaled"],"paddingInner":0.4222,"paddingOuter":0.1922}}, "y": {"datum": 0}, "text": {"field": "d"}}}
          ]
        }
      ]
    },
    {
      "title": {"text": "b)", "orient": "left", "anchor": "end", "angle": 0, "align": "right", "baseline": "top", "offset": -22, "dy": -24, "fontSize": 24},
      "spacing": 10,
      "hconcat": [
        {
          "width": 205, "height": 205,
          "data": {"name": "bars"},
          "encoding": {"x": {"field": "group", "type": "nominal", "scale": {"domain": ["G1","G2"], "paddingInner": 0.1, "paddingOuter": 0.0549, "align": 0.41}, "axis": {"labels": false, "ticks": false, "title": null}}},
          "layer": [
            {"transform": [{"filter": "datum.row=='b' && datum.shape=='Cubic' && datum.kind=='Unscaled'"}],
             "mark": {"type": "bar", "fill": "#00f", "stroke": "#000", "strokeWidth": 2},
             "encoding": {"xOffset": {"field":"kind","type":"nominal","scale":{"domain":["Unscaled","Scaled"],"paddingInner":0.3953,"paddingOuter":0.2651}},
               "y": {"aggregate": "mean", "field": "value", "type": "quantitative", "scale": {"domain": [0,5], "nice": false}, "axis": {"values": [0,1,2,3,4,5], "titleY": 90, "title": ["Apparent Young's","Modulus Ratio"]}}}},
            {"transform": [{"filter": "datum.row=='b' && datum.shape=='Cubic' && datum.kind=='Scaled' && datum.group=='G1'"}],
             "mark": {"type": "bar", "stroke": "#000", "strokeWidth": 2, "fill": {"gradient":"linear","x1":0,"y1":1,"x2":1.0135,"y2":0.0138,"stops":[
               {"offset":0,"color":"#000"},{"offset":0.08,"color":"#000"},{"offset":0.08,"color":"#00f"},{"offset":0.2,"color":"#00f"},
               {"offset":0.2,"color":"#000"},{"offset":0.28,"color":"#000"},{"offset":0.28,"color":"#00f"},{"offset":0.4,"color":"#00f"},
               {"offset":0.4,"color":"#000"},{"offset":0.48,"color":"#000"},{"offset":0.48,"color":"#00f"},{"offset":0.6,"color":"#00f"},
               {"offset":0.6,"color":"#000"},{"offset":0.68,"color":"#000"},{"offset":0.68,"color":"#00f"},{"offset":0.8,"color":"#00f"},
               {"offset":0.8,"color":"#000"},{"offset":0.88,"color":"#000"},{"offset":0.88,"color":"#00f"},{"offset":1,"color":"#00f"}]}},
             "encoding": {"xOffset": {"field":"kind","type":"nominal","scale":{"domain":["Unscaled","Scaled"],"paddingInner":0.3953,"paddingOuter":0.2651}},
               "y": {"aggregate": "mean", "field": "value", "type": "quantitative"}}},
            {"transform": [{"filter": "datum.row=='b' && datum.shape=='Cubic' && datum.kind=='Scaled' && datum.group=='G2'"}],
             "mark": {"type": "bar", "stroke": "#000", "strokeWidth": 2, "fill": {"gradient":"linear","x1":0,"y1":1,"x2":1.1853,"y2":0.3253,"stops":[
               {"offset":0,"color":"#000"},{"offset":0.1,"color":"#000"},{"offset":0.1,"color":"#00f"},{"offset":0.25,"color":"#00f"},
               {"offset":0.25,"color":"#000"},{"offset":0.35,"color":"#000"},{"offset":0.35,"color":"#00f"},{"offset":0.5,"color":"#00f"},
               {"offset":0.5,"color":"#000"},{"offset":0.6,"color":"#000"},{"offset":0.6,"color":"#00f"},{"offset":0.75,"color":"#00f"},
               {"offset":0.75,"color":"#000"},{"offset":0.85,"color":"#000"},{"offset":0.85,"color":"#00f"},{"offset":1,"color":"#00f"}]}},
             "encoding": {"xOffset": {"field":"kind","type":"nominal","scale":{"domain":["Unscaled","Scaled"],"paddingInner":0.3953,"paddingOuter":0.2651}},
               "y": {"aggregate": "mean", "field": "value", "type": "quantitative"}}},
            {"transform": [{"filter": "datum.row=='b' && datum.shape=='Cubic'"}],
             "mark": {"type": "errorbar", "extent": "stdev", "color": "#000", "thickness": 1, "ticks": {"size": 12, "thickness": 1, "color": "#000"}},
             "encoding": {"xOffset": {"field":"kind","type":"nominal","scale":{"domain":["Unscaled","Scaled"],"paddingInner":0.3953,"paddingOuter":0.2651}},
               "y": {"field": "value", "type": "quantitative", "title": ["Apparent Young's","Modulus Ratio"]}}},
            {"transform": [{"filter": "datum.row=='b' && datum.shape=='Cubic'"}],
             "mark": {"type": "circle", "size": 20, "color": "#000", "opacity": 1, "dx": {"expr": "(datum.rep - 3.5) * 3"}},
             "encoding": {"xOffset": {"field":"kind","type":"nominal","scale":{"domain":["Unscaled","Scaled"],"paddingInner":0.3953,"paddingOuter":0.2651}},
               "y": {"field": "value", "type": "quantitative"}}},
            {"data": {"name": "labels"}, "mark": {"type": "rule", "stroke": "#000", "strokeWidth": 2},
             "encoding": {"xOffset": {"field":"kind","type":"nominal","scale":{"domain":["Unscaled","Scaled"],"paddingInner":0.3953,"paddingOuter":0.2651}}, "y": {"datum": 0}, "y2": {"datum": -0.2}}},
            {"data": {"name": "labels"}, "mark": {"type": "text", "text": "E", "fontStyle": "italic", "fontWeight": "bold", "fontSize": 13.5, "align": "right", "baseline": "alphabetic", "dx": -8.3, "dy": 23.7, "color": "#000"},
             "encoding": {"xOffset": {"field":"kind","type":"nominal","scale":{"domain":["Unscaled","Scaled"],"paddingInner":0.3953,"paddingOuter":0.2651}}, "y": {"datum": 0}}},
            {"data": {"name": "labels"}, "mark": {"type": "text", "fontStyle": "italic", "fontWeight": "bold", "fontSize": 9, "align": "right", "baseline": "alphabetic", "dx": -3.3, "dy": 26, "color": "#000"},
             "encoding": {"xOffset": {"field":"kind","type":"nominal","scale":{"domain":["Unscaled","Scaled"],"paddingInner":0.3953,"paddingOuter":0.2651}}, "y": {"datum": 0}, "text": {"field": "n"}}},
            {"data": {"name": "labels"}, "mark": {"type": "text", "text": "/E", "fontStyle": "italic", "fontWeight": "bold", "fontSize": 13.5, "align": "left", "baseline": "alphabetic", "dx": -3.3, "dy": 23.7, "color": "#000"},
             "encoding": {"xOffset": {"field":"kind","type":"nominal","scale":{"domain":["Unscaled","Scaled"],"paddingInner":0.3953,"paddingOuter":0.2651}}, "y": {"datum": 0}}},
            {"data": {"name": "labels"}, "mark": {"type": "text", "fontStyle": "italic", "fontWeight": "bold", "fontSize": 9, "align": "left", "baseline": "alphabetic", "dx": 10.5, "dy": 26, "color": "#000"},
             "encoding": {"xOffset": {"field":"kind","type":"nominal","scale":{"domain":["Unscaled","Scaled"],"paddingInner":0.3953,"paddingOuter":0.2651}}, "y": {"datum": 0}, "text": {"field": "d"}}},
            {"data": {"name": "brackets"}, "transform": [{"filter": "datum.shape=='Cubic'"}],
             "mark": {"type": "line", "color": "#000", "strokeWidth": 1.5},
             "encoding": {"xOffset": {"field":"kind","type":"nominal","scale":{"domain":["Unscaled","Scaled"],"paddingInner":0.3953,"paddingOuter":0.2651}},
               "y": {"field": "y", "type": "quantitative"}, "order": {"field": "ord", "type": "quantitative"}, "detail": {"field": "id"}}},
            {"data": {"name": "stars"}, "transform": [{"filter": "datum.shape=='Cubic'"}],
             "mark": {"type": "text", "fontWeight": "bold", "fontSize": 23, "baseline": "alphabetic", "dy": -2.5, "color": "#000"},
             "encoding": {"y": {"field": "y", "type": "quantitative"}, "text": {"field": "label"}}}
          ]
        },
        {
          "width": 205, "height": 205,
          "data": {"name": "bars"},
          "encoding": {"x": {"field": "group", "type": "nominal", "scale": {"domain": ["G1","G2"], "paddingInner": 0.1, "paddingOuter": 0.0549, "align": 0.41}, "axis": {"labels": false, "ticks": false, "title": null}}},
          "layer": [
            {"transform": [{"filter": "datum.row=='b' && datum.shape=='Diamond' && datum.kind=='Unscaled'"}],
             "mark": {"type": "bar", "fill": "#f00", "stroke": "#000", "strokeWidth": 2},
             "encoding": {"xOffset": {"field":"kind","type":"nominal","scale":{"domain":["Unscaled","Scaled"],"paddingInner":0.3953,"paddingOuter":0.2651}},
               "y": {"aggregate": "mean", "field": "value", "type": "quantitative", "scale": {"domain": [0,15], "nice": false}, "axis": {"values": [0,5,10,15], "title": null, "minExtent": 49}}}},
            {"transform": [{"filter": "datum.row=='b' && datum.shape=='Diamond' && datum.kind=='Scaled' && datum.group=='G1'"}],
             "mark": {"type": "bar", "stroke": "#000", "strokeWidth": 2, "fill": {"gradient":"linear","x1":0,"y1":1,"x2":0.2722,"y2":-0.1694,"stops":[
               {"offset":0,"color":"#000"},{"offset":0.0286,"color":"#000"},{"offset":0.0286,"color":"#f00"},{"offset":0.0714,"color":"#f00"},
               {"offset":0.0714,"color":"#000"},{"offset":0.1,"color":"#000"},{"offset":0.1,"color":"#f00"},{"offset":0.1429,"color":"#f00"},
               {"offset":0.1429,"color":"#000"},{"offset":0.1714,"color":"#000"},{"offset":0.1714,"color":"#f00"},{"offset":0.2143,"color":"#f00"},
               {"offset":0.2143,"color":"#000"},{"offset":0.2429,"color":"#000"},{"offset":0.2429,"color":"#f00"},{"offset":0.2857,"color":"#f00"},
               {"offset":0.2857,"color":"#000"},{"offset":0.3143,"color":"#000"},{"offset":0.3143,"color":"#f00"},{"offset":0.3571,"color":"#f00"},
               {"offset":0.3571,"color":"#000"},{"offset":0.3857,"color":"#000"},{"offset":0.3857,"color":"#f00"},{"offset":0.4286,"color":"#f00"},
               {"offset":0.4286,"color":"#000"},{"offset":0.4571,"color":"#000"},{"offset":0.4571,"color":"#f00"},{"offset":0.5,"color":"#f00"},
               {"offset":0.5,"color":"#000"},{"offset":0.5286,"color":"#000"},{"offset":0.5286,"color":"#f00"},{"offset":0.5714,"color":"#f00"},
               {"offset":0.5714,"color":"#000"},{"offset":0.6,"color":"#000"},{"offset":0.6,"color":"#f00"},{"offset":0.6429,"color":"#f00"},
               {"offset":0.6429,"color":"#000"},{"offset":0.6714,"color":"#000"},{"offset":0.6714,"color":"#f00"},{"offset":0.7143,"color":"#f00"},
               {"offset":0.7143,"color":"#000"},{"offset":0.7429,"color":"#000"},{"offset":0.7429,"color":"#f00"},{"offset":0.7857,"color":"#f00"},
               {"offset":0.7857,"color":"#000"},{"offset":0.8143,"color":"#000"},{"offset":0.8143,"color":"#f00"},{"offset":0.8571,"color":"#f00"},
               {"offset":0.8571,"color":"#000"},{"offset":0.8857,"color":"#000"},{"offset":0.8857,"color":"#f00"},{"offset":0.9286,"color":"#f00"},
               {"offset":0.9286,"color":"#000"},{"offset":0.9571,"color":"#000"},{"offset":0.9571,"color":"#f00"},{"offset":1,"color":"#f00"}]}},
             "encoding": {"xOffset": {"field":"kind","type":"nominal","scale":{"domain":["Unscaled","Scaled"],"paddingInner":0.3953,"paddingOuter":0.2651}},
               "y": {"aggregate": "mean", "field": "value", "type": "quantitative"}}},
            {"transform": [{"filter": "datum.row=='b' && datum.shape=='Diamond' && datum.kind=='Scaled' && datum.group=='G2'"}],
             "mark": {"type": "bar", "stroke": "#000", "strokeWidth": 2, "fill": {"gradient":"linear","x1":0,"y1":1,"x2":0.2953,"y2":-0.1768,"stops":[
               {"offset":0,"color":"#000"},{"offset":0.0308,"color":"#000"},{"offset":0.0308,"color":"#f00"},{"offset":0.0769,"color":"#f00"},
               {"offset":0.0769,"color":"#000"},{"offset":0.1077,"color":"#000"},{"offset":0.1077,"color":"#f00"},{"offset":0.1538,"color":"#f00"},
               {"offset":0.1538,"color":"#000"},{"offset":0.1846,"color":"#000"},{"offset":0.1846,"color":"#f00"},{"offset":0.2308,"color":"#f00"},
               {"offset":0.2308,"color":"#000"},{"offset":0.2615,"color":"#000"},{"offset":0.2615,"color":"#f00"},{"offset":0.3077,"color":"#f00"},
               {"offset":0.3077,"color":"#000"},{"offset":0.3385,"color":"#000"},{"offset":0.3385,"color":"#f00"},{"offset":0.3846,"color":"#f00"},
               {"offset":0.3846,"color":"#000"},{"offset":0.4154,"color":"#000"},{"offset":0.4154,"color":"#f00"},{"offset":0.4615,"color":"#f00"},
               {"offset":0.4615,"color":"#000"},{"offset":0.4923,"color":"#000"},{"offset":0.4923,"color":"#f00"},{"offset":0.5385,"color":"#f00"},
               {"offset":0.5385,"color":"#000"},{"offset":0.5692,"color":"#000"},{"offset":0.5692,"color":"#f00"},{"offset":0.6154,"color":"#f00"},
               {"offset":0.6154,"color":"#000"},{"offset":0.6462,"color":"#000"},{"offset":0.6462,"color":"#f00"},{"offset":0.6923,"color":"#f00"},
               {"offset":0.6923,"color":"#000"},{"offset":0.7231,"color":"#000"},{"offset":0.7231,"color":"#f00"},{"offset":0.7692,"color":"#f00"},
               {"offset":0.7692,"color":"#000"},{"offset":0.8,"color":"#000"},{"offset":0.8,"color":"#f00"},{"offset":0.8462,"color":"#f00"},
               {"offset":0.8462,"color":"#000"},{"offset":0.8769,"color":"#000"},{"offset":0.8769,"color":"#f00"},{"offset":0.9231,"color":"#f00"},
               {"offset":0.9231,"color":"#000"},{"offset":0.9538,"color":"#000"},{"offset":0.9538,"color":"#f00"},{"offset":1,"color":"#f00"}]}},
             "encoding": {"xOffset": {"field":"kind","type":"nominal","scale":{"domain":["Unscaled","Scaled"],"paddingInner":0.3953,"paddingOuter":0.2651}},
               "y": {"aggregate": "mean", "field": "value", "type": "quantitative"}}},
            {"transform": [{"filter": "datum.row=='b' && datum.shape=='Diamond'"}],
             "mark": {"type": "errorbar", "extent": "stdev", "color": "#000", "thickness": 1, "ticks": {"size": 12, "thickness": 1, "color": "#000"}},
             "encoding": {"xOffset": {"field":"kind","type":"nominal","scale":{"domain":["Unscaled","Scaled"],"paddingInner":0.3953,"paddingOuter":0.2651}},
               "y": {"field": "value", "type": "quantitative"}}},
            {"transform": [{"filter": "datum.row=='b' && datum.shape=='Diamond'"}],
             "mark": {"type": "circle", "size": 20, "color": "#000", "opacity": 1, "dx": {"expr": "(datum.rep - 3.5) * 3"}},
             "encoding": {"xOffset": {"field":"kind","type":"nominal","scale":{"domain":["Unscaled","Scaled"],"paddingInner":0.3953,"paddingOuter":0.2651}},
               "y": {"field": "value", "type": "quantitative"}}},
            {"data": {"name": "labels"}, "mark": {"type": "rule", "stroke": "#000", "strokeWidth": 2},
             "encoding": {"xOffset": {"field":"kind","type":"nominal","scale":{"domain":["Unscaled","Scaled"],"paddingInner":0.3953,"paddingOuter":0.2651}}, "y": {"datum": 0}, "y2": {"datum": -0.59}}},
            {"data": {"name": "labels"}, "mark": {"type": "text", "text": "E", "fontStyle": "italic", "fontWeight": "bold", "fontSize": 13.5, "align": "right", "baseline": "alphabetic", "dx": -8.3, "dy": 23.7, "color": "#000"},
             "encoding": {"xOffset": {"field":"kind","type":"nominal","scale":{"domain":["Unscaled","Scaled"],"paddingInner":0.3953,"paddingOuter":0.2651}}, "y": {"datum": 0}}},
            {"data": {"name": "labels"}, "mark": {"type": "text", "fontStyle": "italic", "fontWeight": "bold", "fontSize": 9, "align": "right", "baseline": "alphabetic", "dx": -3.3, "dy": 26, "color": "#000"},
             "encoding": {"xOffset": {"field":"kind","type":"nominal","scale":{"domain":["Unscaled","Scaled"],"paddingInner":0.3953,"paddingOuter":0.2651}}, "y": {"datum": 0}, "text": {"field": "n"}}},
            {"data": {"name": "labels"}, "mark": {"type": "text", "text": "/E", "fontStyle": "italic", "fontWeight": "bold", "fontSize": 13.5, "align": "left", "baseline": "alphabetic", "dx": -3.3, "dy": 23.7, "color": "#000"},
             "encoding": {"xOffset": {"field":"kind","type":"nominal","scale":{"domain":["Unscaled","Scaled"],"paddingInner":0.3953,"paddingOuter":0.2651}}, "y": {"datum": 0}}},
            {"data": {"name": "labels"}, "mark": {"type": "text", "fontStyle": "italic", "fontWeight": "bold", "fontSize": 9, "align": "left", "baseline": "alphabetic", "dx": 10.5, "dy": 26, "color": "#000"},
             "encoding": {"xOffset": {"field":"kind","type":"nominal","scale":{"domain":["Unscaled","Scaled"],"paddingInner":0.3953,"paddingOuter":0.2651}}, "y": {"datum": 0}, "text": {"field": "d"}}},
            {"data": {"name": "brackets"}, "transform": [{"filter": "datum.shape=='Diamond'"}],
             "mark": {"type": "line", "color": "#000", "strokeWidth": 1.5},
             "encoding": {"xOffset": {"field":"kind","type":"nominal","scale":{"domain":["Unscaled","Scaled"],"paddingInner":0.3953,"paddingOuter":0.2651}},
               "y": {"field": "y", "type": "quantitative"}, "order": {"field": "ord", "type": "quantitative"}, "detail": {"field": "id"}}},
            {"data": {"name": "stars"}, "transform": [{"filter": "datum.shape=='Diamond'"}],
             "mark": {"type": "text", "fontWeight": "bold", "fontSize": 23, "baseline": "alphabetic", "dy": -2.5, "color": "#000"},
             "encoding": {"y": {"field": "y", "type": "quantitative"}, "text": {"field": "label"}}}
          ]
        },
        {
          "width": 197, "height": 205,
          "data": {"name": "bars"},
          "encoding": {"x": {"field": "group", "type": "nominal", "scale": {"domain": ["G1","G2"], "paddingInner": 0.13, "paddingOuter": 0.0355, "align": 1}, "axis": {"labels": false, "ticks": false, "title": null}}},
          "layer": [
            {"transform": [{"filter": "datum.row=='b' && datum.shape=='Vintile' && datum.kind=='Unscaled'"}],
             "mark": {"type": "bar", "fill": "#77109b", "stroke": "#000", "strokeWidth": 2},
             "encoding": {"xOffset": {"field":"kind","type":"nominal","scale":{"domain":["Unscaled","Scaled"],"paddingInner":0.4222,"paddingOuter":0.1922}},
               "y": {"aggregate": "mean", "field": "value", "type": "quantitative", "scale": {"domain": [0,5], "nice": false}, "axis": {"values": [0,1,2,3,4,5], "title": null, "minExtent": 52}}}},
            {"transform": [{"filter": "datum.row=='b' && datum.shape=='Vintile' && datum.kind=='Scaled' && datum.group=='G1'"}],
             "mark": {"type": "bar", "stroke": "#000", "strokeWidth": 2, "fill": {"gradient":"linear","x1":0,"y1":1,"x2":0.6372,"y2":-0.1935,"stops":[
               {"offset":0,"color":"#000"},{"offset":0.0571,"color":"#000"},{"offset":0.0571,"color":"#77109b"},{"offset":0.1429,"color":"#77109b"},
               {"offset":0.1429,"color":"#000"},{"offset":0.2,"color":"#000"},{"offset":0.2,"color":"#77109b"},{"offset":0.2857,"color":"#77109b"},
               {"offset":0.2857,"color":"#000"},{"offset":0.3429,"color":"#000"},{"offset":0.3429,"color":"#77109b"},{"offset":0.4286,"color":"#77109b"},
               {"offset":0.4286,"color":"#000"},{"offset":0.4857,"color":"#000"},{"offset":0.4857,"color":"#77109b"},{"offset":0.5714,"color":"#77109b"},
               {"offset":0.5714,"color":"#000"},{"offset":0.6286,"color":"#000"},{"offset":0.6286,"color":"#77109b"},{"offset":0.7143,"color":"#77109b"},
               {"offset":0.7143,"color":"#000"},{"offset":0.7714,"color":"#000"},{"offset":0.7714,"color":"#77109b"},{"offset":0.8571,"color":"#77109b"},
               {"offset":0.8571,"color":"#000"},{"offset":0.9143,"color":"#000"},{"offset":0.9143,"color":"#77109b"},{"offset":1,"color":"#77109b"}]}},
             "encoding": {"xOffset": {"field":"kind","type":"nominal","scale":{"domain":["Unscaled","Scaled"],"paddingInner":0.4222,"paddingOuter":0.1922}},
               "y": {"aggregate": "mean", "field": "value", "type": "quantitative"}}},
            {"transform": [{"filter": "datum.row=='b' && datum.shape=='Vintile' && datum.kind=='Scaled' && datum.group=='G2'"}],
             "mark": {"type": "bar", "stroke": "#000", "strokeWidth": 2, "fill": {"gradient":"linear","x1":0,"y1":1,"x2":0.3095,"y2":-0.181,"stops":[
               {"offset":0,"color":"#000"},{"offset":0.0308,"color":"#000"},{"offset":0.0308,"color":"#77109b"},{"offset":0.0769,"color":"#77109b"},
               {"offset":0.0769,"color":"#000"},{"offset":0.1077,"color":"#000"},{"offset":0.1077,"color":"#77109b"},{"offset":0.1538,"color":"#77109b"},
               {"offset":0.1538,"color":"#000"},{"offset":0.1846,"color":"#000"},{"offset":0.1846,"color":"#77109b"},{"offset":0.2308,"color":"#77109b"},
               {"offset":0.2308,"color":"#000"},{"offset":0.2615,"color":"#000"},{"offset":0.2615,"color":"#77109b"},{"offset":0.3077,"color":"#77109b"},
               {"offset":0.3077,"color":"#000"},{"offset":0.3385,"color":"#000"},{"offset":0.3385,"color":"#77109b"},{"offset":0.3846,"color":"#77109b"},
               {"offset":0.3846,"color":"#000"},{"offset":0.4154,"color":"#000"},{"offset":0.4154,"color":"#77109b"},{"offset":0.4615,"color":"#77109b"},
               {"offset":0.4615,"color":"#000"},{"offset":0.4923,"color":"#000"},{"offset":0.4923,"color":"#77109b"},{"offset":0.5385,"color":"#77109b"},
               {"offset":0.5385,"color":"#000"},{"offset":0.5692,"color":"#000"},{"offset":0.5692,"color":"#77109b"},{"offset":0.6154,"color":"#77109b"},
               {"offset":0.6154,"color":"#000"},{"offset":0.6462,"color":"#000"},{"offset":0.6462,"color":"#77109b"},{"offset":0.6923,"color":"#77109b"},
               {"offset":0.6923,"color":"#000"},{"offset":0.7231,"color":"#000"},{"offset":0.7231,"color":"#77109b"},{"offset":0.7692,"color":"#77109b"},
               {"offset":0.7692,"color":"#000"},{"offset":0.8,"color":"#000"},{"offset":0.8,"color":"#77109b"},{"offset":0.8462,"color":"#77109b"},
               {"offset":0.8462,"color":"#000"},{"offset":0.8769,"color":"#000"},{"offset":0.8769,"color":"#77109b"},{"offset":0.9231,"color":"#77109b"},
               {"offset":0.9231,"color":"#000"},{"offset":0.9538,"color":"#000"},{"offset":0.9538,"color":"#77109b"},{"offset":1,"color":"#77109b"}]}},
             "encoding": {"xOffset": {"field":"kind","type":"nominal","scale":{"domain":["Unscaled","Scaled"],"paddingInner":0.4222,"paddingOuter":0.1922}},
               "y": {"aggregate": "mean", "field": "value", "type": "quantitative"}}},
            {"transform": [{"filter": "datum.row=='b' && datum.shape=='Vintile'"}],
             "mark": {"type": "errorbar", "extent": "stdev", "color": "#000", "thickness": 1, "ticks": {"size": 12, "thickness": 1, "color": "#000"}},
             "encoding": {"xOffset": {"field":"kind","type":"nominal","scale":{"domain":["Unscaled","Scaled"],"paddingInner":0.4222,"paddingOuter":0.1922}},
               "y": {"field": "value", "type": "quantitative"}}},
            {"transform": [{"filter": "datum.row=='b' && datum.shape=='Vintile'"}],
             "mark": {"type": "circle", "size": 20, "color": "#000", "opacity": 1, "dx": {"expr": "(datum.rep - 3.5) * 3"}},
             "encoding": {"xOffset": {"field":"kind","type":"nominal","scale":{"domain":["Unscaled","Scaled"],"paddingInner":0.4222,"paddingOuter":0.1922}},
               "y": {"field": "value", "type": "quantitative"}}},
            {"data": {"name": "labels"}, "mark": {"type": "rule", "stroke": "#000", "strokeWidth": 2},
             "encoding": {"xOffset": {"field":"kind","type":"nominal","scale":{"domain":["Unscaled","Scaled"],"paddingInner":0.4222,"paddingOuter":0.1922}}, "y": {"datum": 0}, "y2": {"datum": -0.2}}},
            {"data": {"name": "labels"}, "mark": {"type": "text", "text": "E", "fontStyle": "italic", "fontWeight": "bold", "fontSize": 13.5, "align": "right", "baseline": "alphabetic", "dx": -8.3, "dy": 23.7, "color": "#000"},
             "encoding": {"xOffset": {"field":"kind","type":"nominal","scale":{"domain":["Unscaled","Scaled"],"paddingInner":0.4222,"paddingOuter":0.1922}}, "y": {"datum": 0}}},
            {"data": {"name": "labels"}, "mark": {"type": "text", "fontStyle": "italic", "fontWeight": "bold", "fontSize": 9, "align": "right", "baseline": "alphabetic", "dx": -3.3, "dy": 26, "color": "#000"},
             "encoding": {"xOffset": {"field":"kind","type":"nominal","scale":{"domain":["Unscaled","Scaled"],"paddingInner":0.4222,"paddingOuter":0.1922}}, "y": {"datum": 0}, "text": {"field": "n"}}},
            {"data": {"name": "labels"}, "mark": {"type": "text", "text": "/E", "fontStyle": "italic", "fontWeight": "bold", "fontSize": 13.5, "align": "left", "baseline": "alphabetic", "dx": -3.3, "dy": 23.7, "color": "#000"},
             "encoding": {"xOffset": {"field":"kind","type":"nominal","scale":{"domain":["Unscaled","Scaled"],"paddingInner":0.4222,"paddingOuter":0.1922}}, "y": {"datum": 0}}},
            {"data": {"name": "labels"}, "mark": {"type": "text", "fontStyle": "italic", "fontWeight": "bold", "fontSize": 9, "align": "left", "baseline": "alphabetic", "dx": 10.5, "dy": 26, "color": "#000"},
             "encoding": {"xOffset": {"field":"kind","type":"nominal","scale":{"domain":["Unscaled","Scaled"],"paddingInner":0.4222,"paddingOuter":0.1922}}, "y": {"datum": 0}, "text": {"field": "d"}}},
            {"data": {"name": "brackets"}, "transform": [{"filter": "datum.shape=='Vintile'"}],
             "mark": {"type": "line", "color": "#000", "strokeWidth": 1.5},
             "encoding": {"xOffset": {"field":"kind","type":"nominal","scale":{"domain":["Unscaled","Scaled"],"paddingInner":0.4222,"paddingOuter":0.1922}},
               "y": {"field": "y", "type": "quantitative"}, "order": {"field": "ord", "type": "quantitative"}, "detail": {"field": "id"}}},
            {"data": {"name": "stars"}, "transform": [{"filter": "datum.shape=='Vintile'"}],
             "mark": {"type": "text", "fontWeight": "bold", "fontSize": 23, "baseline": "alphabetic", "dy": -2.5, "color": "#000"},
             "encoding": {"y": {"field": "y", "type": "quantitative"}, "text": {"field": "label"}}}
          ]
        }
      ]
    }
  ]
}
